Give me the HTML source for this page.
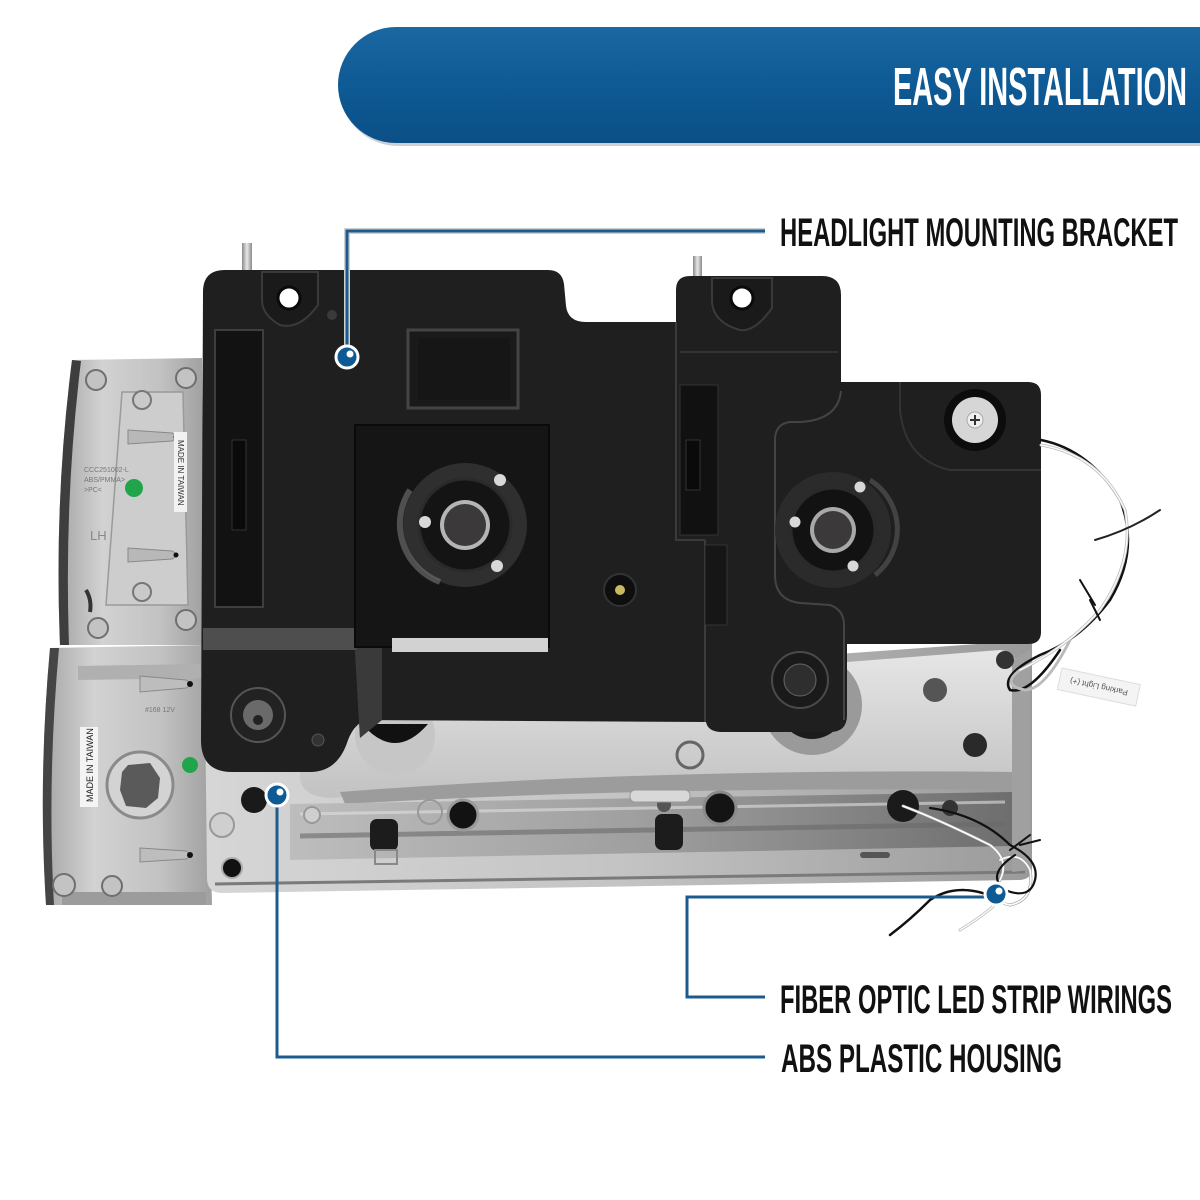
<!DOCTYPE html>
<html><head><meta charset="utf-8"><style>
html,body{margin:0;padding:0;background:#fff;}
svg{display:block;}
</style></head><body>
<svg width="1200" height="1200" viewBox="0 0 1200 1200" xmlns="http://www.w3.org/2000/svg">
<defs>
<linearGradient id="hdr" x1="0" y1="0" x2="0" y2="1">
<stop offset="0" stop-color="#1a67a2"/><stop offset="0.5" stop-color="#0e5a95"/><stop offset="1" stop-color="#0b4f86"/>
</linearGradient>
<linearGradient id="silv" x1="0" y1="0" x2="1" y2="0">
<stop offset="0" stop-color="#a5a5a5"/><stop offset="0.3" stop-color="#d2d2d2"/><stop offset="0.7" stop-color="#c2c2c2"/><stop offset="1" stop-color="#a0a0a0"/>
</linearGradient>
<linearGradient id="housing" x1="0" y1="0" x2="1" y2="0">
<stop offset="0" stop-color="#d6d6d6"/><stop offset="0.5" stop-color="#c4c4c4"/><stop offset="1" stop-color="#9a9a9a"/>
</linearGradient>
<linearGradient id="rail" x1="0" y1="0" x2="1" y2="0">
<stop offset="0" stop-color="#bdbdbd"/><stop offset="0.5" stop-color="#9e9e9e"/><stop offset="1" stop-color="#6e6e6e"/>
</linearGradient>
<linearGradient id="bowl" x1="0" y1="0" x2="0" y2="1">
<stop offset="0" stop-color="#e6e6e6"/><stop offset="1" stop-color="#c2c2c2"/>
</linearGradient>
<linearGradient id="pin" x1="0" y1="0" x2="1" y2="0">
<stop offset="0" stop-color="#8a8a8a"/><stop offset="0.5" stop-color="#e8e8e8"/><stop offset="1" stop-color="#8a8a8a"/>
</linearGradient>
</defs>

<!-- Header pill -->
<rect x="340" y="30" width="920" height="116" rx="58" fill="#6b7c8c" opacity="0.35"/>
<rect x="338" y="27" width="920" height="116" rx="58" fill="url(#hdr)"/>
<text x="893" y="105" font-size="54" textLength="294" lengthAdjust="spacingAndGlyphs" fill="#ffffff" font-weight="bold" font-family="'Liberation Sans Narrow','Liberation Sans',sans-serif">EASY INSTALLATION</text>

<!-- Pins on top -->
<rect x="242" y="243" width="10" height="30" fill="url(#pin)"/>
<rect x="693" y="256" width="9" height="24" fill="url(#pin)"/>

<!-- Left corner lamp upper -->
<path d="M72,360 L202,358 L204,645 L60,645 Q54,500 72,360Z" fill="url(#silv)"/>
<path d="M72,360 Q54,500 60,645 L69,645 Q64,500 81,361Z" fill="#3e3e3e"/>
<path d="M122,392 L183,392 L188,605 L106,605Z" fill="#cdcdcd" stroke="#9a9a9a" stroke-width="1.5"/>
<circle cx="96" cy="380" r="10" fill="#c3c3c3" stroke="#6f6f6f" stroke-width="2"/>
<circle cx="186" cy="378" r="10" fill="#c3c3c3" stroke="#6f6f6f" stroke-width="2"/>
<circle cx="98" cy="628" r="10" fill="#c3c3c3" stroke="#6f6f6f" stroke-width="2"/>
<circle cx="186" cy="620" r="10" fill="#c3c3c3" stroke="#6f6f6f" stroke-width="2"/>
<circle cx="142" cy="400" r="9" fill="#c9c9c9" stroke="#777" stroke-width="2"/>
<circle cx="142" cy="592" r="9" fill="#c9c9c9" stroke="#777" stroke-width="2"/>
<path d="M128,430 L172,433 L178,437 L172,441 L128,444Z" fill="#b8b8b8" stroke="#888"/>
<circle cx="176" cy="437" r="2.5" fill="#111"/>
<path d="M128,548 L172,551 L178,555 L172,559 L128,562Z" fill="#b8b8b8" stroke="#888"/>
<circle cx="176" cy="555" r="2.5" fill="#111"/>
<circle cx="134" cy="488" r="9" fill="#21a54a"/>
<rect x="174" y="432" width="13" height="80" fill="#f2f2f2"/>
<text transform="translate(178,440) rotate(90)" font-size="8" fill="#333" font-family="'Liberation Sans',sans-serif">MADE IN TAIWAN</text>
<text x="84" y="472" font-size="7" fill="#777" font-family="'Liberation Sans',sans-serif">CCC251002-L</text>
<text x="84" y="482" font-size="7" fill="#777" font-family="'Liberation Sans',sans-serif">ABS/PMMA&gt;</text>
<text x="84" y="492" font-size="7" fill="#777" font-family="'Liberation Sans',sans-serif">&gt;PC&lt;</text>
<text x="90" y="540" font-size="13" fill="#888" font-family="'Liberation Sans',sans-serif">LH</text>
<path d="M86,590 q6,10 4,22" stroke="#333" stroke-width="4" fill="none"/>

<!-- Left corner lamp lower -->
<path d="M50,648 L206,645 L212,905 L46,905 Q38,780 50,648Z" fill="url(#silv)"/>
<path d="M50,648 Q38,780 46,905 L54,905 Q47,780 59,648Z" fill="#454545"/>
<path d="M62,905 L206,905 L206,892 L62,892Z" fill="#9c9c9c"/>
<path d="M78,666 L200,664 L202,678 L78,680Z" fill="#b0b0b0"/>
<path d="M140,676 L186,680 L192,684 L186,688 L140,692Z" fill="#bdbdbd" stroke="#888"/>
<circle cx="190" cy="684" r="3" fill="#111"/>
<path d="M140,848 L186,851 L192,855 L186,859 L140,862Z" fill="#bdbdbd" stroke="#888"/>
<circle cx="190" cy="855" r="3" fill="#111"/>
<circle cx="140" cy="785" r="33" fill="#d3d3d3" stroke="#8a8a8a" stroke-width="3"/>
<path d="M128,765 L150,763 L160,778 L158,798 L146,808 L126,806 L120,790 L122,772Z" fill="#5a5a5a"/>
<rect x="80" y="727" width="18" height="80" fill="#f4f4f4"/>
<text transform="translate(93,802) rotate(-90)" font-size="9" fill="#222" font-family="'Liberation Sans',sans-serif">MADE IN TAIWAN</text>
<circle cx="190" cy="765" r="8" fill="#21a54a"/>
<circle cx="64" cy="885" r="11" fill="#c3c3c3" stroke="#6f6f6f" stroke-width="2"/>
<circle cx="112" cy="886" r="10" fill="#c3c3c3" stroke="#6f6f6f" stroke-width="2"/>
<text x="145" y="712" font-size="7" fill="#777" font-family="'Liberation Sans',sans-serif">#168 12V</text>

<!-- Lower housing -->
<path d="M205,700 L1032,640 L1032,868 Q1032,880 1018,880 L222,893 Q207,893 207,878Z" fill="url(#housing)"/>
<path d="M300,705 L1000,650 Q1022,652 1022,690 L1020,782 Q700,770 330,798 Q300,796 300,776Z" fill="url(#bowl)"/>
<path d="M340,792 Q650,768 1020,772 L1020,790 Q650,786 345,804Z" fill="#9c9c9c"/>
<path d="M290,804 L1012,792 L1012,846 L290,860Z" fill="url(#rail)"/>
<path d="M300,836 L1005,824" stroke="#6a6a6a" stroke-width="5" opacity="0.6"/>
<path d="M300,814 L1005,802" stroke="#e0e0e0" stroke-width="3" opacity="0.6"/>
<path d="M215,884 L1025,872" stroke="#7a7a7a" stroke-width="3"/>
<path d="M1012,660 L1030,650 L1030,870 L1012,872Z" fill="#a0a0a0"/>
<circle cx="812" cy="705" r="50" fill="#9a9a9a"/>
<circle cx="812" cy="705" r="34" fill="#1c1c1c"/>
<circle cx="395" cy="735" r="40" fill="#c6c6c6"/>
<path d="M362,724 Q395,762 428,724Z" fill="#111"/>
<circle cx="463" cy="815" r="15" fill="#121212" stroke="#9a9a9a" stroke-width="3"/>
<circle cx="720" cy="808" r="16" fill="#141414" stroke="#8a8a8a" stroke-width="3"/>
<circle cx="903" cy="806" r="16" fill="#1a1a1a"/>
<rect x="370" y="819" width="28" height="32" rx="7" fill="#1c1c1c"/>
<rect x="375" y="850" width="22" height="14" fill="none" stroke="#888" stroke-width="2"/>
<rect x="655" y="814" width="28" height="36" rx="7" fill="#1c1c1c"/>
<circle cx="664" cy="805" r="7" fill="#555"/>
<circle cx="950" cy="808" r="8" fill="#333"/>
<circle cx="232" cy="868" r="10" fill="#111" stroke="#aaa" stroke-width="2"/>
<circle cx="254" cy="800" r="13" fill="#1a1a1a"/>
<circle cx="222" cy="825" r="12" fill="#cfcfcf" stroke="#999" stroke-width="2"/>
<circle cx="312" cy="815" r="8" fill="#cfcfcf" stroke="#999" stroke-width="2"/>
<circle cx="430" cy="812" r="12" fill="none" stroke="#999" stroke-width="2"/>
<circle cx="1005" cy="660" r="9" fill="#333"/>
<circle cx="975" cy="745" r="12" fill="#2a2a2a"/>
<circle cx="935" cy="690" r="12" fill="#555"/>
<circle cx="690" cy="755" r="13" fill="none" stroke="#666" stroke-width="3"/>
<rect x="630" y="790" width="60" height="12" rx="5" fill="#d8d8d8" stroke="#999"/>
<rect x="860" y="852" width="30" height="6" rx="3" fill="#555"/>

<!-- Black bracket silhouette -->
<path d="M203,292 Q203,270 225,270 L548,270 Q562,270 564,284 L566,306 Q568,322 586,322 L676,322 L676,290 Q676,276 690,276 L822,276 Q841,276 841,295 L841,382 L1028,382 Q1041,382 1041,395 L1041,632 Q1041,644 1028,644 L847,644 L847,715 Q847,732 830,732 L722,732 Q708,732 706,722 L368,720 Q355,722 348,740 Q338,772 310,772 L232,772 Q201,772 201,740 Z" fill="#1f1f1f"/>

<!-- bracket details -->
<path d="M203,628 L382,628 L382,720 Q370,722 360,738 L355,650 L203,650Z" fill="#4e4e4e"/>
<path d="M355,650 L382,628 L382,720 L360,738Z" fill="#3a3a3a"/>
<path d="M705,540 L705,722" stroke="#3c3c3c" stroke-width="2"/>
<path d="M676,322 L676,540 L705,540" stroke="#3a3a3a" stroke-width="2" fill="none"/>
<path d="M841,391 Q838,420 800,422 L790,422 Q775,424 775,440 L775,575 Q775,600 800,603 L830,605 Q844,610 844,625 L844,720" stroke="#444" stroke-width="2" fill="none"/>
<path d="M680,352 L838,352" stroke="#333" stroke-width="2"/>
<path d="M900,382 L900,410 Q905,460 950,470 L1041,470" stroke="#333" stroke-width="2" fill="none"/>

<!-- left slot -->
<rect x="215" y="330" width="48" height="277" fill="#121212" stroke="#3e3e3e" stroke-width="2"/>
<rect x="232" y="440" width="14" height="90" fill="#0a0a0a" stroke="#333"/>
<!-- right slot -->
<rect x="680" y="385" width="38" height="150" fill="#111" stroke="#333"/>
<rect x="686" y="440" width="14" height="50" fill="#0a0a0a" stroke="#333"/>
<rect x="705" y="545" width="22" height="80" fill="#161616" stroke="#333"/>

<!-- mount ears -->
<path d="M262,272 L318,272 L318,305 Q300,330 280,325 Q262,315 262,300Z" fill="#1a1a1a" stroke="#3a3a3a" stroke-width="2"/>
<circle cx="289" cy="298" r="11" fill="#fff" stroke="#0a0a0a" stroke-width="3"/>
<circle cx="332" cy="315" r="5" fill="#3a3a3a"/>
<path d="M712,278 L772,278 L772,308 Q755,332 740,330 Q712,322 712,300Z" fill="#1a1a1a" stroke="#3a3a3a" stroke-width="2"/>
<circle cx="742" cy="298" r="11" fill="#fff" stroke="#0a0a0a" stroke-width="3"/>

<!-- raised rectangle -->
<rect x="408" y="330" width="110" height="78" fill="#1a1a1a" stroke="#444" stroke-width="3"/>
<rect x="418" y="338" width="92" height="62" fill="#161616"/>

<!-- recess -->
<rect x="355" y="425" width="194" height="222" fill="#151515" stroke="#0a0a0a" stroke-width="2"/>
<rect x="392" y="638" width="156" height="14" fill="#d2d2d2"/>
<path d="M392,652 L548,652 L548,660 L392,660Z" fill="#1f1f1f"/>

<!-- left socket -->
<circle cx="465" cy="525" r="62" fill="#2f2f2f"/>
<path d="M410,490 A62,62 0 0,0 440,582" stroke="#777" stroke-width="6" fill="none" opacity="0.6"/>
<circle cx="465" cy="525" r="46" fill="#141414" stroke="#2a2a2a" stroke-width="3"/>
<circle cx="465" cy="525" r="25" fill="#b5b5b5"/>
<circle cx="465" cy="525" r="21" fill="#3b3939"/>
<circle cx="500" cy="480" r="6" fill="#d8d8d8"/>
<circle cx="425" cy="522" r="6" fill="#d8d8d8"/>
<circle cx="497" cy="566" r="6" fill="#d8d8d8"/>

<!-- grommet -->
<circle cx="620" cy="590" r="16" fill="#0e0e0e" stroke="#333" stroke-width="2"/>
<circle cx="620" cy="590" r="5" fill="#c9b860"/>

<!-- right socket -->
<circle cx="833" cy="530" r="58" fill="#2b2b2b"/>
<path d="M870,480 A58,58 0 0,1 875,575" stroke="#5a5a5a" stroke-width="5" fill="none" opacity="0.6"/>
<circle cx="833" cy="530" r="42" fill="#121212" stroke="#2a2a2a" stroke-width="3"/>
<circle cx="833" cy="530" r="23" fill="#a8a8a8"/>
<circle cx="833" cy="530" r="19" fill="#3b3939"/>
<circle cx="860" cy="487" r="5.5" fill="#d8d8d8"/>
<circle cx="795" cy="522" r="5.5" fill="#d8d8d8"/>
<circle cx="853" cy="566" r="5.5" fill="#d8d8d8"/>

<!-- screw cap -->
<circle cx="975" cy="420" r="31" fill="#0c0c0c"/>
<circle cx="975" cy="420" r="23" fill="#d6d6d6"/>
<circle cx="975" cy="420" r="8" fill="#eee" stroke="#aaa"/>
<path d="M970,420 L980,420 M975,415 L975,425" stroke="#333" stroke-width="2"/>

<!-- foot hole -->
<circle cx="258" cy="715" r="27" fill="#222" stroke="#555" stroke-width="2"/>
<circle cx="258" cy="715" r="15" fill="#6a6a6a"/>
<circle cx="258" cy="720" r="5" fill="#222"/>
<circle cx="318" cy="740" r="6" fill="#333" stroke="#555"/>
<!-- right bracket hole -->
<circle cx="800" cy="680" r="28" fill="#1a1a1a" stroke="#4a4a4a" stroke-width="2"/>
<circle cx="800" cy="680" r="16" fill="#2e2e2e" stroke="#666"/>

<!-- wires upper right -->
<g fill="none" stroke-linecap="round">
<path d="M1041,440 Q1090,450 1120,500 Q1140,550 1110,600 Q1080,640 1040,655 Q1000,675 1010,690 Q1030,695 1060,650" stroke="#111" stroke-width="2.5"/>
<path d="M1041,445 Q1100,455 1125,510 Q1135,560 1100,610 Q1070,645 1020,670 Q1000,685 1025,690 Q1045,690 1070,640" stroke="#bbb" stroke-width="3"/>
<path d="M1041,445 Q1100,455 1125,510 Q1135,560 1100,610 Q1070,645 1020,670" stroke="#fafafa" stroke-width="1.5"/>
<path d="M1095,540 Q1130,530 1160,510" stroke="#222" stroke-width="2"/>
<path d="M1090,600 L1100,620 M1080,580 L1095,605" stroke="#111" stroke-width="2"/>
</g>
<g transform="translate(1062,668) rotate(12)">
<rect x="0" y="0" width="80" height="22" fill="#f4f4f4" stroke="#ddd"/>
<text x="40" y="14" font-size="8" fill="#555" text-anchor="middle" transform="rotate(180,40,11)" font-family="'Liberation Sans',sans-serif">Parking Light (+)</text>
</g>

<!-- wires lower right -->
<g fill="none" stroke-linecap="round">
<path d="M903,806 Q940,820 990,845 Q1010,860 1000,880 Q985,900 1010,905 Q1035,900 1030,870 Q1020,850 1000,860" stroke="#999" stroke-width="3"/>
<path d="M903,806 Q940,820 990,845 Q1010,860 1000,880 Q985,900 1010,905 Q1035,900 1030,870 Q1020,850 1000,860" stroke="#fafafa" stroke-width="1.8"/>
<path d="M930,808 Q980,815 1010,845 Q1040,860 1035,880 Q1030,900 1005,890 Q985,875 1015,855" stroke="#111" stroke-width="2.2"/>
<path d="M1000,900 Q960,880 930,900 Q910,920 890,935" stroke="#111" stroke-width="2.5"/>
<path d="M1000,900 Q985,915 960,930" stroke="#bbb" stroke-width="3"/>
<path d="M1000,900 Q985,915 960,930" stroke="#fafafa" stroke-width="1.5"/>
<path d="M1020,845 L1040,840 M1010,850 L1030,835" stroke="#111" stroke-width="2"/>
</g>

<!-- Callouts -->
<g fill="none" stroke-width="3">
<path d="M347,346 L347,231 L765,231" stroke="#d0d0d0" stroke-width="6"/>
<path d="M347,346 L347,231 L765,231" stroke="#1d5b8f"/>
<path d="M277,806 L277,1057 L765,1057" stroke="#1d5b8f"/>
<path d="M985,897 L687,897 L687,997 L765,997" stroke="#1d5b8f"/>
</g>
<g stroke="#fff" stroke-width="3">
<circle cx="347" cy="357" r="11" fill="#0e5a94"/>
<circle cx="277" cy="795" r="11" fill="#0e5a94"/>
<circle cx="996" cy="894" r="11" fill="#0e5a94"/>
</g>
<g fill="#fff">
<circle cx="350" cy="354" r="3.5"/>
<circle cx="280" cy="792" r="3.5"/>
<circle cx="999" cy="891" r="3.5"/>
</g>

<g fill="#111" font-weight="bold" font-family="'Liberation Sans Narrow','Liberation Sans',sans-serif">
<text x="780" y="246" font-size="40" textLength="398" lengthAdjust="spacingAndGlyphs">HEADLIGHT MOUNTING BRACKET</text>
<text x="780" y="1013" font-size="40" textLength="392" lengthAdjust="spacingAndGlyphs">FIBER OPTIC LED STRIP WIRINGS</text>
<text x="781" y="1072" font-size="40" textLength="281" lengthAdjust="spacingAndGlyphs">ABS PLASTIC HOUSING</text>
</g>
</svg>
</body></html>
